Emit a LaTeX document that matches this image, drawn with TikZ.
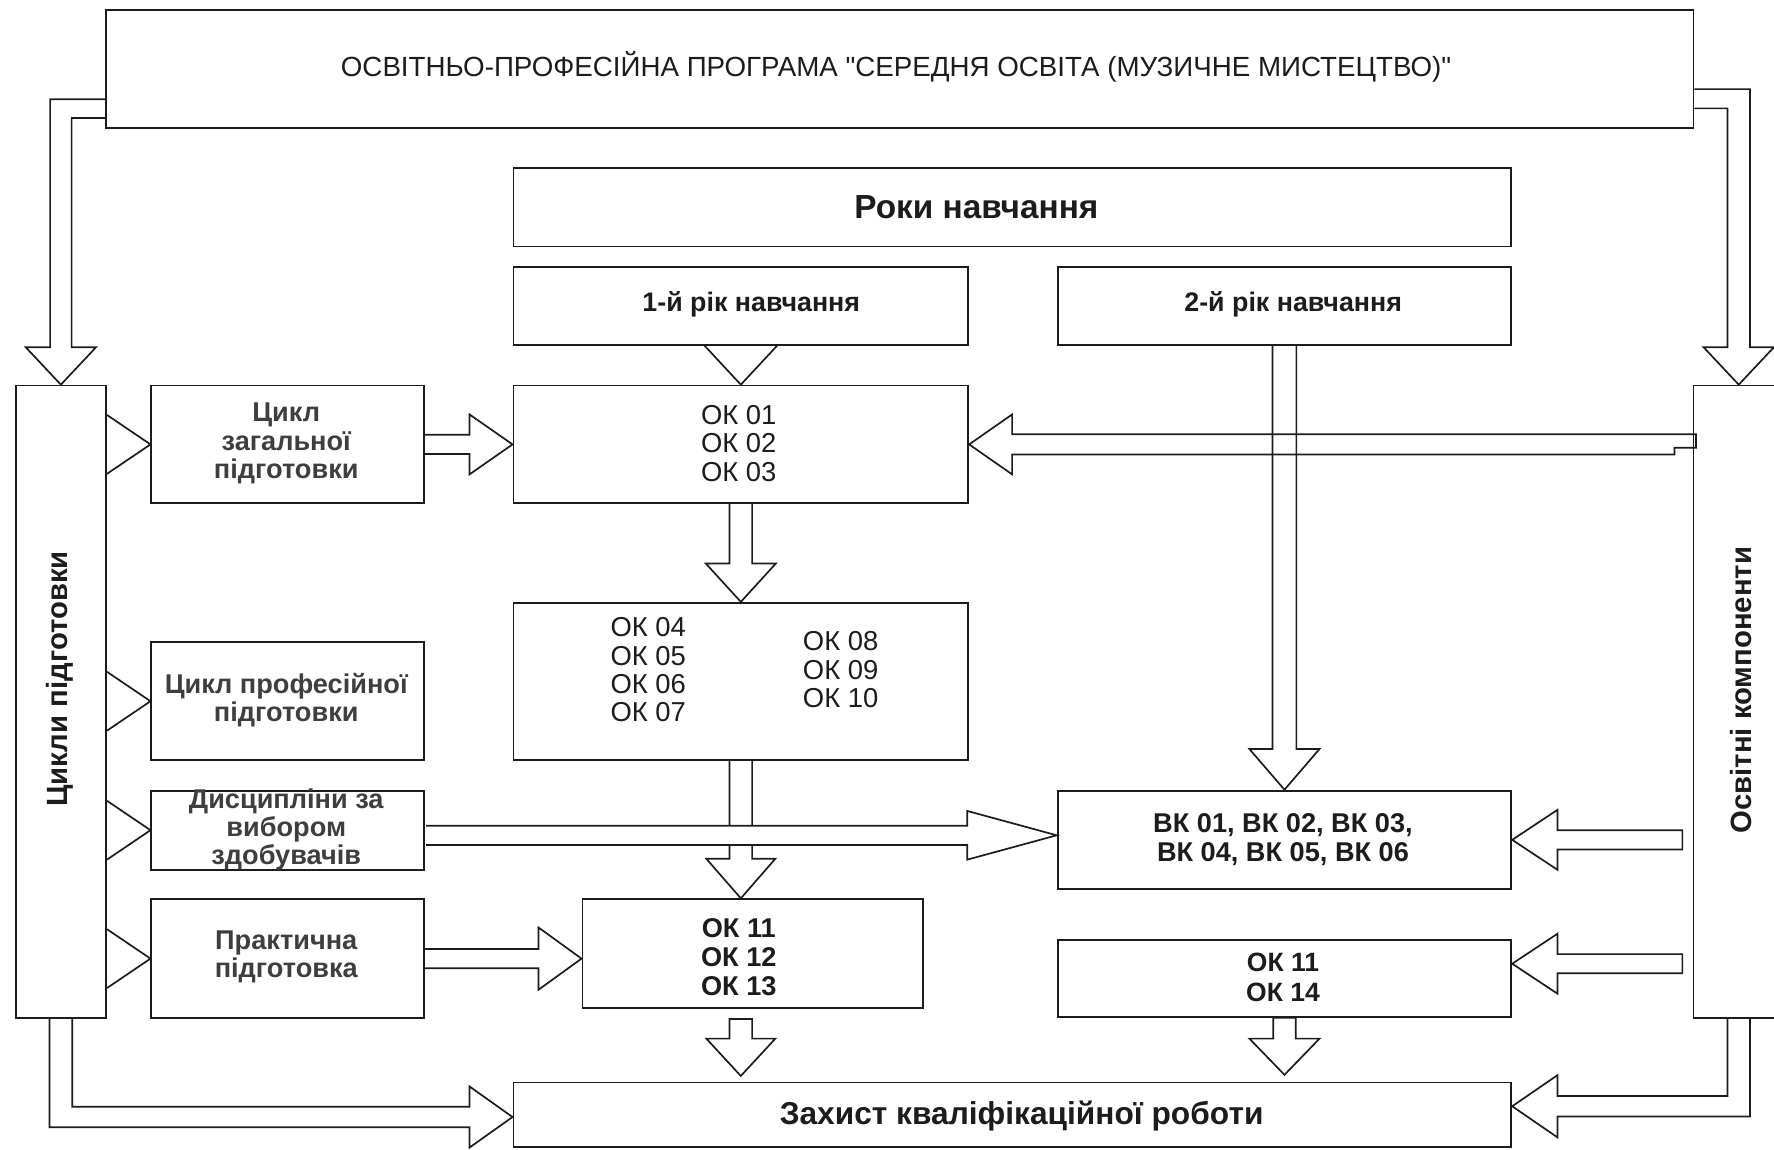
\documentclass[tikz,border=0pt]{standalone}
\usepackage{fontspec}
\setmainfont{Liberation Sans}[Ligatures=TeXOff]
\usetikzlibrary{calc}
\definecolor{ink}{HTML}{1C1C1C}
\newcommand\fsz[2]{\fontsize{#1}{#2}\selectfont}
\newcommand\bx[5]{\node[box,minimum width=#4pt,minimum height=#5pt] (#1) at (#2,#3) {};}
% block arrows: [opts]{start}{tip}{shaft half}{head half}{head length}{closing}
\newcommand\ArrDown[7][]{%
  \draw[blk,#1] let \p1=(#2), \p2=(#3) in
   (\x2-#4,\y1) -- (\x2-#4,\y2+#6) -- (\x2-#5,\y2+#6) -- (\x2,\y2) -- (\x2+#5,\y2+#6) -- (\x2+#4,\y2+#6) -- (\x2+#4,\y1) #7;}
\newcommand\ArrRight[7][]{%
  \draw[blk,#1] let \p1=(#2), \p2=(#3) in
   (\x1,\y2+#4) -- (\x2-#6,\y2+#4) -- (\x2-#6,\y2+#5) -- (\x2,\y2) -- (\x2-#6,\y2-#5) -- (\x2-#6,\y2-#4) -- (\x1,\y2-#4) #7;}
\newcommand\ArrLeft[7][]{%
  \draw[blk,#1] let \p1=(#2), \p2=(#3) in
   (\x1,\y2+#4) -- (\x2+#6,\y2+#4) -- (\x2+#6,\y2+#5) -- (\x2,\y2) -- (\x2+#6,\y2-#5) -- (\x2+#6,\y2-#4) -- (\x1,\y2-#4) #7;}
\begin{document}
\begin{tikzpicture}[x=1pt,y=-1pt,
  box/.style={draw=ink,line width=1.6pt,inner sep=0pt,anchor=north west},
  blk/.style={draw=ink,line width=1.5pt,line join=miter},
  tx/.style={inner sep=0pt,align=center,text=ink},
  ttl/.style={tx,font=\fsz{24.5}{28}},
  hdr/.style={tx,font=\bfseries\fsz{29.5}{32}},
  yr/.style={tx,font=\bfseries\fsz{23.7}{27}},
  side/.style={tx,font=\bfseries\fsz{25.9}{30},rotate=90},
  cyc/.style={tx,font=\bfseries\fsz{24}{25},text=ink!85},
  okr/.style={tx,font=\fsz{24.2}{25}},
  okb/.style={tx,font=\bfseries\fsz{24}{25.5}},
  defs/.style={tx,font=\bfseries\fsz{28}{32}}
]
\useasboundingbox (0,0) rectangle (1568,1016);
% boxes
\bx{top}{93}{8}{1403}{104}
\bx{roky}{453}{148}{882}{69}
\bx{yr1}{453}{235}{402}{69}
\bx{yr2}{934}{235}{401}{69}
\bx{cyc}{13}{340}{80}{559}
\bx{comps}{1496}{340}{80}{559}
\bx{gen}{133}{340}{241}{104}
\bx{prof}{133}{567}{241}{104}
\bx{disc}{133}{698}{241}{70}
\bx{prac}{133}{794}{241}{105}
\bx{ok1}{453}{340}{402}{104}
\bx{ok4}{453}{532}{402}{139}
\bx{ok11}{514}{794}{301}{96}
\bx{vk}{934}{698}{401}{87}
\bx{ok14}{934}{830}{401}{68}
\bx{def}{453}{956}{882}{57}
% texts
\node[ttl] (t-top) at (792,59) {ОСВІТНЬО-ПРОФЕСІЙНА ПРОГРАМА "СЕРЕДНЯ ОСВІТА (МУЗИЧНЕ МИСТЕЦТВО)"};
\node[hdr] (t-roky) at (863,183) {Роки навчання};
\node[yr] (t-yr1) at (664,269) {1-й рік навчання};
\node[yr] (t-yr2) at (1143,269) {2-й рік навчання};
\node[side] (t-cyc) at (53,600) {Цикли підготовки};
\node[side] (t-comps) at (1539,610) {Освітні компоненти};
\node[cyc] (t-gen) at (253,392) {Цикл\\загальної\\підготовки};
\node[cyc] (t-prof) at (253,619) {Цикл професійної\\підготовки};
\node[cyc] (t-disc) at (253,733) {Дисципліни за\\вибором\\здобувачів};
\node[cyc] (t-prac) at (253,846) {Практична\\підготовка};
\node[okr] (t-ok1) at (653,392) {ОК 01\\ОК 02\\ОК 03};
\node[okr] (t-ok4a) at (573,592) {ОК 04\\ОК 05\\ОК 06\\ОК 07};
\node[okr] (t-ok4b) at (743,592) {ОК 08\\ОК 09\\ОК 10};
\node[okb] (t-ok11) at (653,846) {ОК 11\\ОК 12\\ОК 13};
\node[okb] (t-vk) at (1134,742) {ВК 01, ВК 02, ВК 03,\\ВК 04, ВК 05, ВК 06};
\node[okb,font=\bfseries\fsz{23.4}{26}] (t-ok14) at (1134,864) {ОК 11\\ОК 14};
\node[defs] (t-def) at (903,986) {Захист кваліфікаційної роботи};
% programme -> side boxes
\draw[blk] let \p1=(top.west), \p2=(cyc.north) in
  (\x1,\y1-27pt) -- (\x2-9.5pt,\y1-27pt) -- (\x2-9.5pt,\y2+33pt) -- (\x2-31pt,\y2+33pt) -- (\x2,\y2)
  -- (\x2+31pt,\y2+33pt) -- (\x2+9.5pt,\y2+33pt) -- (\x2+9.5pt,\y1-43.5pt) -- (\x1,\y1-43.5pt);
\draw[blk] let \p1=(top.east), \p2=(comps.north) in
  (\x1,\y1-18pt) -- (\x2+10pt,\y1-18pt) -- (\x2+10pt,\y2+33pt) -- (\x2+31pt,\y2+33pt) -- (\x2,\y2)
  -- (\x2-31pt,\y2+33pt) -- (\x2-10pt,\y2+33pt) -- (\x2-10pt,\y1-35pt) -- (\x1,\y1-35pt);
% first year triangle
\draw[blk] let \p1=(yr1.south), \p2=(ok1.north) in (\x2-32pt,\y1) -- (\x2,\y2) -- (\x2+32pt,\y1);
% side triangles
\foreach \b in {gen,prof,disc,prac}
  \draw[blk] let \p1=(cyc.east), \p2=(\b.west) in (\x1,\y2+26pt) -- (\x2,\y2) -- (\x1,\y2-26pt);
% vertical flow
\ArrDown{ok1.south}{ok4.north}{10pt}{31pt}{34pt}{}
\ArrDown{ok4.south}{ok4.south |- ok11.north}{10pt}{30.5pt}{35pt}{}
\ArrDown{$(ok4.south |- ok11.south)+(0,9)$}{$(ok4.south |- def.north)+(0,-5)$}{10pt}{30.5pt}{33pt}{-- cycle}
\ArrDown{ok14.south}{$(ok14.south |- def.north)+(0,-6)$}{10pt}{31pt}{32pt}{-- cycle}
\ArrDown{yr2.south}{vk.north}{10.5pt}{31pt}{36pt}{}
% horizontal flow
\ArrRight{gen.east}{ok1.west}{8.5pt}{26.5pt}{38pt}{}
\ArrRight{prac.east}{ok11.west |- prac.east}{8.5pt}{27.5pt}{38pt}{}
\ArrRight[fill=white]{$(disc.east)+(1,0)$}{[yshift=4pt]vk.west}{8.5pt}{21.5pt}{79pt}{}
\ArrLeft{$(comps.west)+(-9,0)$}{vk.east}{8.5pt}{26.5pt}{40pt}{-- cycle}
\ArrLeft{$(comps.west)+(-9,0)$}{[yshift=13pt]ok14.east}{8.5pt}{26.5pt}{40pt}{-- cycle}
\draw[blk] let \p1=(comps.west), \p2=(ok1.east) in
  (\x1+3pt,\y2+9pt) -- (\x2+38pt,\y2+9pt) -- (\x2+38pt,\y2+26.5pt) -- (\x2,\y2) -- (\x2+38pt,\y2-26.5pt)
  -- (\x2+38pt,\y2-9pt) -- (\x1-16pt,\y2-9pt) -- (\x1-16pt,\y2-3pt) -- (\x1+3pt,\y2-3pt) -- cycle;
% side boxes -> defence
\draw[blk] let \p1=(cyc.south), \p2=([yshift=-2pt]def.west) in
  (\x1-10pt,\y1) -- (\x1-10pt,\y2-9pt) -- (\x2-38pt,\y2-9pt) -- (\x2-38pt,\y2-27pt) -- (\x2,\y2)
  -- (\x2-38pt,\y2+27pt) -- (\x2-38pt,\y2+9pt) -- (\x1+10pt,\y2+9pt) -- (\x1+10pt,\y1);
\draw[blk] let \p1=(comps.south), \p2=([yshift=7.5pt]def.east) in
  (\x1-10pt,\y1) -- (\x1-10pt,\y2+9pt) -- (\x2+40pt,\y2+9pt) -- (\x2+40pt,\y2+27.5pt) -- (\x2,\y2)
  -- (\x2+40pt,\y2-27.5pt) -- (\x2+40pt,\y2-9pt) -- (\x1+10pt,\y2-9pt) -- (\x1+10pt,\y1);
\end{tikzpicture}
\end{document}
